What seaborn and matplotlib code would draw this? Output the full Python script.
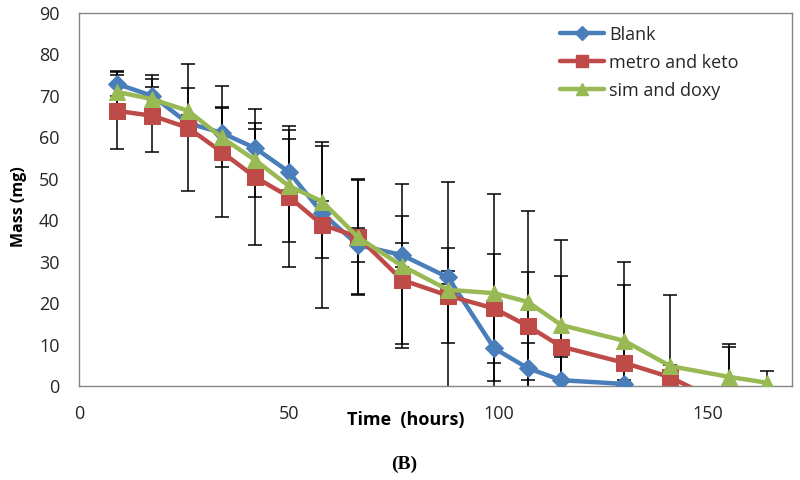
import matplotlib
matplotlib.use("Agg")
import matplotlib.pyplot as plt
import seaborn as sns
import pandas as pd
from matplotlib.lines import Line2D

# ---- data ----
time_blank = [9, 17.5, 26, 34, 42, 50, 58, 66.5, 77, 88, 99, 107, 115, 130]
blank = [72.9, 70.0, 63.4, 61.1, 57.4, 51.7, 41.7, 34.0, 31.6, 26.2, 9.1, 4.3, 1.4, 0.5]
blank_err = [3.0, 5.0, 2.0, 6.0, 4.6, 8.0, 3.0, 4.2, 3.0, 1.6, 7.9, 6.0, 5.7, 1.0]

time_metro = [9, 17.5, 26, 34, 42, 50, 58, 66.5, 77, 88, 99, 107, 115, 130, 141, 155]
metro = [66.4, 65.2, 62.3, 56.5, 50.4, 45.7, 38.9, 36.0, 25.6, 21.8, 18.7, 14.5, 9.5, 5.6, 2.1, -4.9]
metro_err = [9.3, 8.8, 15.3, 15.8, 16.4, 17.0, 20.0, 13.8, 15.4, 11.4, 13.2, 13.1, 17.1, 18.8, 3.0, 14.2]

time_sim = [9, 17.5, 26, 34, 42, 50, 58, 66.5, 77, 88, 99, 107, 115, 130, 141, 155, 164]
sim = [71.0, 69.2, 66.4, 60.0, 54.5, 48.3, 44.5, 35.9, 29.0, 23.2, 22.4, 20.3, 14.7, 10.9, 4.8, 2.2, 0.8]
sim_err = [4.0, 3.0, 5.4, 7.2, 9.0, 13.5, 13.5, 14.0, 19.8, 26.0, 24.0, 22.0, 20.6, 18.9, 17.2, 8.0, 2.7]

series_names = ["Blank", "metro and keto", "sim and doxy"]
x_ticks = [0, 50, 100, 150]
y_ticks = [0, 10, 20, 30, 40, 50, 60, 70, 80, 90]

sns.set_theme(style="white")
plt.rcParams["font.family"] = ["Open Sans", "DejaVu Sans"]

colors = ["#4A7EBB", "#BE4B48", "#98B954"]
markers = ["D", "s", "^"]
msizes = [9, 11.5, 11.5]

fig = plt.figure(figsize=(8, 4.8), dpi=100)
ax = fig.add_axes([79 / 800, 1 - 386 / 480, (792 - 79) / 800, (386 - 13) / 480])

series = [(time_blank, blank, blank_err), (time_metro, metro, metro_err), (time_sim, sim, sim_err)]

for (t, v, e) in series:
    ax.errorbar(t, v, yerr=e, fmt="none", ecolor="black", elinewidth=1.1,
                capsize=5, capthick=1.1, zorder=2)

for (t, v, e), name, c, m, ms in zip(series, series_names, colors, markers, msizes):
    df = pd.DataFrame({"time": t, "mass": v})
    sns.lineplot(data=df, x="time", y="mass", ax=ax, color=c, linewidth=3.2,
                 marker=m, markersize=ms, markeredgecolor=c, zorder=3,
                 estimator=None, sort=False)

ax.set_xlim(0, 170)
ax.set_ylim(0, 90)
ax.set_xticks(x_ticks)
ax.set_yticks(y_ticks)
ax.set_xlabel("")
ax.set_ylabel("")
ax.tick_params(axis="both", which="both", direction="out", length=6, width=1,
               color="#868686", labelsize=13, labelcolor="#262626", pad=8)
ax.tick_params(axis="x", pad=8)
for s in ax.spines.values():
    s.set_visible(True)
    s.set_color("#868686")
    s.set_linewidth(1)

handles = [Line2D([0], [0], color=c, marker=m, markersize=ms * 0.75, linewidth=3.2)
           for c, m, ms in zip(colors, markers, msizes)]
leg = ax.legend(handles, series_names, loc="upper left", bbox_to_anchor=(0.665, 0.985),
                frameon=False, fontsize=13, handlelength=2.4, handletextpad=0.3,
                labelspacing=0.55, borderaxespad=0)
for txt in leg.get_texts():
    txt.set_color("#262626")

fig.text(406 / 800, 1 - 420 / 480, "Time  (hours)", ha="center", va="center",
         fontsize=13, fontweight="bold", color="black")
fig.text(19 / 800, 1 - 207 / 480, "Mass (mg)", ha="center", va="center", rotation=90,
         fontsize=11.5, fontweight="bold", color="black")
fig.text(404 / 800, 1 - 464 / 480, "(B)", ha="center", va="center",
         fontsize=14, fontweight="bold", family=["Liberation Serif", "DejaVu Serif"], color="black")

fig.savefig("out.png", dpi=100, facecolor="white")
